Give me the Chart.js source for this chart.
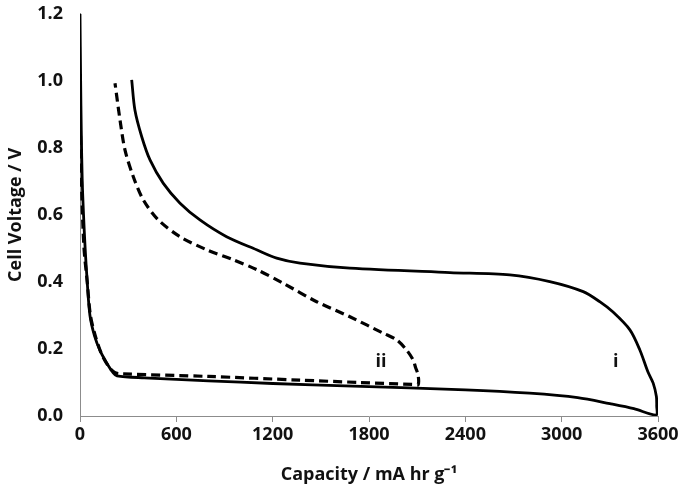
<!DOCTYPE html>
<html>
<head>
<meta charset="utf-8">
<script src="https://cdn.jsdelivr.net/npm/chart.js@4"></script>
<style>
  html, body { margin: 0; padding: 0; background: #fff; }
  #wrap { width: 685px; height: 486px; }
</style>
</head>
<body>
<div id="wrap"><canvas id="voltChart" width="685" height="486"></canvas></div>
<script>
// cell i (solid): discharge down to 3590, then charge back to top-left
const cellICapacity = [
  0, 4, 8, 14, 22, 32, 45, 62, 90, 125, 170, 205, 230, 400, 800, 1200, 1700, 2400, 2800, 3100, 3300, 3450, 3590,
  3592, 3590, 3570, 3537, 3487, 3425, 3320, 3237, 3134, 2926, 2677, 2304, 1681, 1370, 1225, 1100, 913, 747, 623, 519, 436, 384, 342, 322
];
const cellIVoltage = [
  1.2, 1.0, 0.85, 0.7, 0.6, 0.5, 0.4, 0.3, 0.24, 0.195, 0.155, 0.13, 0.12, 0.114, 0.105, 0.097, 0.089, 0.078, 0.068, 0.055, 0.037, 0.022, 0.003,
  0.03, 0.058, 0.098, 0.132, 0.197, 0.257, 0.31, 0.341, 0.371, 0.401, 0.421, 0.428, 0.441, 0.456, 0.471, 0.496, 0.535, 0.585, 0.635, 0.694, 0.764, 0.834, 0.913, 1.003
];

// cell ii (dashed)
const cellIICapacity = [
  0, 5, 12, 25, 45, 65, 95, 130, 175, 215, 260, 800, 1370, 1743, 2075, 2106,
  2106, 2090, 2075, 2034, 1972, 1889, 1681, 1474, 1266, 1100, 955, 789, 623, 488, 394, 332, 280, 249, 218
];
const cellIIVoltage = [
  0.92, 0.8, 0.65, 0.5, 0.4, 0.3, 0.24, 0.19, 0.15, 0.13, 0.126, 0.118, 0.107, 0.1, 0.094, 0.093,
  0.122, 0.145, 0.167, 0.197, 0.227, 0.247, 0.296, 0.341, 0.396, 0.437, 0.466, 0.496, 0.535, 0.585, 0.645, 0.714, 0.794, 0.884, 0.993
];

const xTicks = [0, 600, 1200, 1800, 2400, 3000, 3600];
const yTicks = [0, 0.2, 0.4, 0.6, 0.8, 1.0, 1.2];

const curveLabels = ["i", "ii"];
const curveLabelX = [3337, 1874];
const curveLabelY = [0.16, 0.16];

const toPoints = (xs, ys) => xs.map((x, i) => ({ x: x, y: ys[i] }));

const FONT = "'Open Sans', 'Liberation Sans', sans-serif";

const curveLabelPlugin = {
  id: "curveLabels",
  afterDatasetsDraw(chart) {
    const ctx = chart.ctx;
    const xs = chart.scales.x, ys = chart.scales.y;
    ctx.save();
    ctx.font = "bold 18px " + FONT;
    ctx.fillStyle = "#111";
    ctx.textAlign = "center";
    ctx.textBaseline = "middle";
    curveLabels.forEach((t, i) => {
      ctx.fillText(t, xs.getPixelForValue(curveLabelX[i]), ys.getPixelForValue(curveLabelY[i]));
    });
    ctx.restore();
  },
};

new Chart(document.getElementById("voltChart").getContext("2d"), {
  type: "scatter",
  data: {
    datasets: [
      {
        label: "i",
        data: toPoints(cellICapacity, cellIVoltage),
        showLine: true,
        borderColor: "#000",
        borderWidth: 2.8,
        pointRadius: 0,
        tension: 0.3,
      },
      {
        label: "ii",
        data: toPoints(cellIICapacity, cellIIVoltage),
        showLine: true,
        borderColor: "#000",
        borderWidth: 3.2,
        borderDash: [9, 5],
        pointRadius: 0,
        tension: 0.3,
      },
    ],
  },
  options: {
    responsive: false,
    animation: false,
    plugins: { legend: { display: false }, tooltip: { enabled: false } },
    layout: { padding: { top: 1, right: 27, left: 5, bottom: 0 } },
    scales: {
      x: {
        min: 0,
        max: 3600,
        afterBuildTicks: (s) => { s.ticks = xTicks.map((v) => ({ value: v })); },
        afterFit: (s) => { s.height = 70; },
        border: { color: "#8c8c8c", width: 1 },
        grid: { drawOnChartArea: false, color: "#8c8c8c", tickLength: 6 },
        ticks: {
          color: "#111",
          font: { family: FONT, size: 18, weight: "bold" },
          padding: 2,
          maxRotation: 0,
          callback: (v) => String(v),
        },
        title: {
          display: true,
          text: "Capacity / mA hr g\u207B\u00B9",
          color: "#111",
          font: { family: FONT, size: 18, weight: "bold" },
          padding: { top: 0, bottom: 0 },
        },
      },
      y: {
        min: 0,
        max: 1.2,
        afterBuildTicks: (s) => { s.ticks = yTicks.map((v) => ({ value: v })); },
        afterFit: (s) => { s.width = 75; },
        border: { color: "#8c8c8c", width: 1 },
        // invisible tick marks give the gap between labels and axis line
        grid: { drawOnChartArea: false, tickLength: 14, tickColor: "rgba(0,0,0,0)" },
        ticks: {
          color: "#111",
          font: { family: FONT, size: 18, weight: "bold" },
          padding: 3,
          callback: (v) => v.toFixed(1),
        },
        title: {
          display: true,
          text: "Cell Voltage / V",
          color: "#111",
          font: { family: FONT, size: 18, weight: "bold" },
          padding: { top: 0, bottom: 0 },
        },
      },
    },
  },
  plugins: [curveLabelPlugin],
});
</script>
</body>
</html>
